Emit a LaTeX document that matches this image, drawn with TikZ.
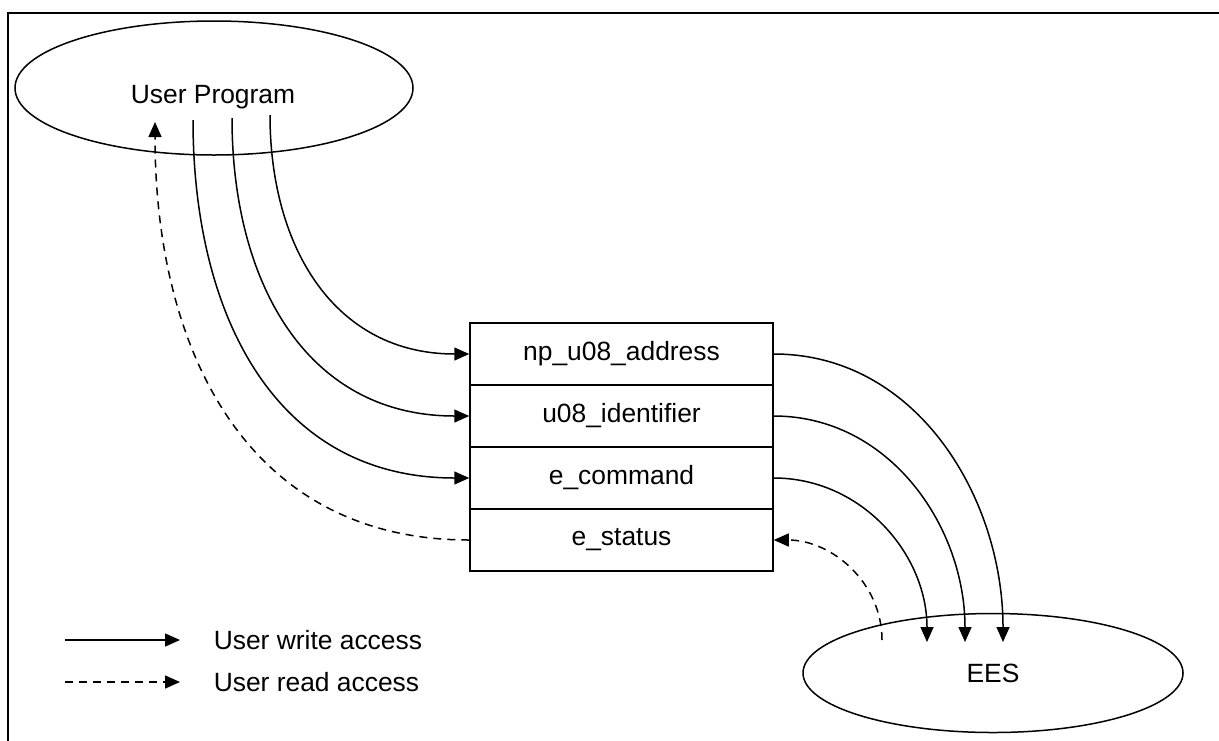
\documentclass[tikz,border=0pt]{standalone}
\usepackage{fontspec}
\setmainfont{Liberation Sans}
\usetikzlibrary{arrows.meta,shapes.geometric}
\begin{document}
\begin{tikzpicture}[x=0.5pt,y=-0.5pt,
    font=\fontsize{13.2}{15}\selectfont,
    every path/.style={line width=0.75pt},
    actor/.style={draw,ellipse,inner sep=0pt},
    field/.style={draw,minimum width=151.5pt,minimum height=31pt,inner sep=0pt},
    wr/.style={-{Triangle[length=7.5pt,width=6.5pt]}},
    rd/.style={-{Triangle[length=7.5pt,width=6.5pt]},dash pattern=on 4pt off 3pt}]
  \useasboundingbox (0,0) rectangle (1219,740);
  \draw[line width=1.1pt] (8,13) rectangle (1240,760);

  % the two parties
  \node[actor,minimum width=199pt,minimum height=67pt] (prog) at (214,88) {};
  \node (progtxt) at (213,97) {User Program};
  \node[actor,minimum width=190pt,minimum height=59.5pt] (ees) at (993,673) {EES};

  % request block
  \node[field] (addr)  at (621.5,354) {np\_u08\_address};
  \node[field] (ident) at (621.5,416) {u08\_identifier};
  \node[field] (cmd)   at (621.5,478) {e\_command};
  \node[field] (stat)  at (621.5,540) {e\_status};

  % ends inside the ellipses
  \coordinate (p1) at (270,115);
  \coordinate (p2) at (232,118);
  \coordinate (p3) at (193,120);
  \coordinate (pr) at (155,122);
  \coordinate (e1) at (1003,642);
  \coordinate (e2) at (965,642);
  \coordinate (e3) at (927,642);
  \coordinate (er) at (882,640);

  \begin{scope}[wr]
    \draw (p1) to[out=-90,in=180,looseness=1.1] (addr.west);
    \draw (p2) to[out=-90,in=180,looseness=1.1] (ident.west);
    \draw (p3) to[out=-90,in=180,looseness=1.1] (cmd.west);
    \draw (addr.east)  to[out=0,in=90] (e1);
    \draw (ident.east) to[out=0,in=90] (e2);
    \draw (cmd.east)   to[out=0,in=90] (e3);
  \end{scope}
  \begin{scope}[rd]
    \draw (stat.west) to[out=180,in=-90,looseness=1.1] (pr);
    \draw (er) to[out=90,in=0] (stat.east);
  \end{scope}

  % legend
  \coordinate (lw0) at (65,640);
  \coordinate (lw1) at (180,640);
  \coordinate (lr0) at (65,682);
  \coordinate (lr1) at (180,682);
  \draw[wr] (lw0) -- (lw1);
  \draw[rd] (lr0) -- (lr1);
  \node[anchor=west,inner sep=0pt] (lwtxt) at (213,640) {User write access};
  \node[anchor=west,inner sep=0pt] (lrtxt) at (213,682) {User read access};
\end{tikzpicture}
\end{document}
